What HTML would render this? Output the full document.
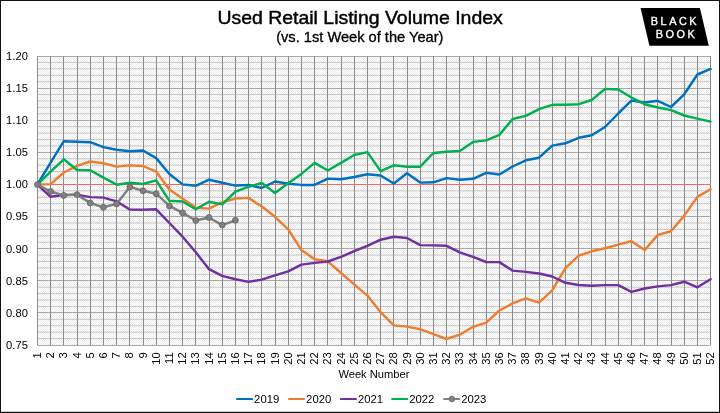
<!DOCTYPE html>
<html lang="en">
<head>
<meta charset="utf-8">
<title>Used Retail Listing Volume Index</title>
<style>
html,body{margin:0;padding:0;background:#fff;}
body{width:720px;height:413px;overflow:hidden;}
svg{display:block;}
text{font-family:"Liberation Sans",Arial,Helvetica,sans-serif;fill:#000;}
.ax{font-size:10.67px;}
.ser{fill:none;stroke-width:2.45;stroke-linejoin:round;stroke-linecap:round;}
</style>
</head>
<body>
<svg width="720" height="413" viewBox="0 0 720 413">
<defs>
<pattern id="dots" x="0" y="0" width="2" height="2" patternUnits="userSpaceOnUse">
<rect width="2" height="2" fill="#fdfdfd"/>
<rect x="0" y="0" width="1" height="1" fill="#ededed"/>
<rect x="1" y="1" width="1" height="1" fill="#ededed"/>
</pattern>
</defs>
<rect x="0" y="0" width="720" height="413" fill="#fff"/>
<rect x="37.4" y="56.0" width="673.2" height="289.0" fill="url(#dots)"/>
<g stroke="#c8c8c8" stroke-width="1">
<line x1="37.4" y1="62.42" x2="710.6" y2="62.42"/><line x1="37.4" y1="68.84" x2="710.6" y2="68.84"/><line x1="37.4" y1="75.27" x2="710.6" y2="75.27"/><line x1="37.4" y1="81.69" x2="710.6" y2="81.69"/><line x1="37.4" y1="94.53" x2="710.6" y2="94.53"/><line x1="37.4" y1="100.96" x2="710.6" y2="100.96"/><line x1="37.4" y1="107.38" x2="710.6" y2="107.38"/><line x1="37.4" y1="113.80" x2="710.6" y2="113.80"/><line x1="37.4" y1="126.64" x2="710.6" y2="126.64"/><line x1="37.4" y1="133.07" x2="710.6" y2="133.07"/><line x1="37.4" y1="139.49" x2="710.6" y2="139.49"/><line x1="37.4" y1="145.91" x2="710.6" y2="145.91"/><line x1="37.4" y1="158.76" x2="710.6" y2="158.76"/><line x1="37.4" y1="165.18" x2="710.6" y2="165.18"/><line x1="37.4" y1="171.60" x2="710.6" y2="171.60"/><line x1="37.4" y1="178.02" x2="710.6" y2="178.02"/><line x1="37.4" y1="190.87" x2="710.6" y2="190.87"/><line x1="37.4" y1="197.29" x2="710.6" y2="197.29"/><line x1="37.4" y1="203.71" x2="710.6" y2="203.71"/><line x1="37.4" y1="210.13" x2="710.6" y2="210.13"/><line x1="37.4" y1="222.98" x2="710.6" y2="222.98"/><line x1="37.4" y1="229.40" x2="710.6" y2="229.40"/><line x1="37.4" y1="235.82" x2="710.6" y2="235.82"/><line x1="37.4" y1="242.24" x2="710.6" y2="242.24"/><line x1="37.4" y1="255.09" x2="710.6" y2="255.09"/><line x1="37.4" y1="261.51" x2="710.6" y2="261.51"/><line x1="37.4" y1="267.93" x2="710.6" y2="267.93"/><line x1="37.4" y1="274.36" x2="710.6" y2="274.36"/><line x1="37.4" y1="287.20" x2="710.6" y2="287.20"/><line x1="37.4" y1="293.62" x2="710.6" y2="293.62"/><line x1="37.4" y1="300.04" x2="710.6" y2="300.04"/><line x1="37.4" y1="306.47" x2="710.6" y2="306.47"/><line x1="37.4" y1="319.31" x2="710.6" y2="319.31"/><line x1="37.4" y1="325.73" x2="710.6" y2="325.73"/><line x1="37.4" y1="332.16" x2="710.6" y2="332.16"/><line x1="37.4" y1="338.58" x2="710.6" y2="338.58"/>
</g>
<g stroke="#a9a9a9" stroke-width="1">
<line x1="37.4" y1="56.5" x2="710.6" y2="56.5"/><line x1="37.4" y1="88.5" x2="710.6" y2="88.5"/><line x1="37.4" y1="120.5" x2="710.6" y2="120.5"/><line x1="37.4" y1="152.5" x2="710.6" y2="152.5"/><line x1="37.4" y1="184.5" x2="710.6" y2="184.5"/><line x1="37.4" y1="216.5" x2="710.6" y2="216.5"/><line x1="37.4" y1="248.5" x2="710.6" y2="248.5"/><line x1="37.4" y1="280.5" x2="710.6" y2="280.5"/><line x1="37.4" y1="312.5" x2="710.6" y2="312.5"/><line x1="37.4" y1="345.5" x2="710.6" y2="345.5"/>
</g>
<g stroke="#8b8b8b" stroke-width="1">
<line x1="37.5" y1="56.0" x2="37.5" y2="345.0"/><line x1="50.5" y1="56.0" x2="50.5" y2="345.0"/><line x1="63.5" y1="56.0" x2="63.5" y2="345.0"/><line x1="77.5" y1="56.0" x2="77.5" y2="345.0"/><line x1="90.5" y1="56.0" x2="90.5" y2="345.0"/><line x1="103.5" y1="56.0" x2="103.5" y2="345.0"/><line x1="116.5" y1="56.0" x2="116.5" y2="345.0"/><line x1="129.5" y1="56.0" x2="129.5" y2="345.0"/><line x1="143.5" y1="56.0" x2="143.5" y2="345.0"/><line x1="156.5" y1="56.0" x2="156.5" y2="345.0"/><line x1="169.5" y1="56.0" x2="169.5" y2="345.0"/><line x1="182.5" y1="56.0" x2="182.5" y2="345.0"/><line x1="195.5" y1="56.0" x2="195.5" y2="345.0"/><line x1="209.5" y1="56.0" x2="209.5" y2="345.0"/><line x1="222.5" y1="56.0" x2="222.5" y2="345.0"/><line x1="235.5" y1="56.0" x2="235.5" y2="345.0"/><line x1="248.5" y1="56.0" x2="248.5" y2="345.0"/><line x1="261.5" y1="56.0" x2="261.5" y2="345.0"/><line x1="275.5" y1="56.0" x2="275.5" y2="345.0"/><line x1="288.5" y1="56.0" x2="288.5" y2="345.0"/><line x1="301.5" y1="56.0" x2="301.5" y2="345.0"/><line x1="314.5" y1="56.0" x2="314.5" y2="345.0"/><line x1="327.5" y1="56.0" x2="327.5" y2="345.0"/><line x1="341.5" y1="56.0" x2="341.5" y2="345.0"/><line x1="354.5" y1="56.0" x2="354.5" y2="345.0"/><line x1="367.5" y1="56.0" x2="367.5" y2="345.0"/><line x1="380.5" y1="56.0" x2="380.5" y2="345.0"/><line x1="393.5" y1="56.0" x2="393.5" y2="345.0"/><line x1="407.5" y1="56.0" x2="407.5" y2="345.0"/><line x1="420.5" y1="56.0" x2="420.5" y2="345.0"/><line x1="433.5" y1="56.0" x2="433.5" y2="345.0"/><line x1="446.5" y1="56.0" x2="446.5" y2="345.0"/><line x1="459.5" y1="56.0" x2="459.5" y2="345.0"/><line x1="473.5" y1="56.0" x2="473.5" y2="345.0"/><line x1="486.5" y1="56.0" x2="486.5" y2="345.0"/><line x1="499.5" y1="56.0" x2="499.5" y2="345.0"/><line x1="512.5" y1="56.0" x2="512.5" y2="345.0"/><line x1="525.5" y1="56.0" x2="525.5" y2="345.0"/><line x1="539.5" y1="56.0" x2="539.5" y2="345.0"/><line x1="552.5" y1="56.0" x2="552.5" y2="345.0"/><line x1="565.5" y1="56.0" x2="565.5" y2="345.0"/><line x1="578.5" y1="56.0" x2="578.5" y2="345.0"/><line x1="591.5" y1="56.0" x2="591.5" y2="345.0"/><line x1="605.5" y1="56.0" x2="605.5" y2="345.0"/><line x1="618.5" y1="56.0" x2="618.5" y2="345.0"/><line x1="631.5" y1="56.0" x2="631.5" y2="345.0"/><line x1="644.5" y1="56.0" x2="644.5" y2="345.0"/><line x1="657.5" y1="56.0" x2="657.5" y2="345.0"/><line x1="671.5" y1="56.0" x2="671.5" y2="345.0"/><line x1="684.5" y1="56.0" x2="684.5" y2="345.0"/><line x1="697.5" y1="56.0" x2="697.5" y2="345.0"/><line x1="710.5" y1="56.0" x2="710.5" y2="345.0"/>
</g>
<line x1="37.4" y1="184.5" x2="710.6" y2="184.5" stroke="#ff6060" stroke-width="1"/>
<polyline class="ser" stroke="#0070c0" points="37.4,184.5 50.6,162.7 63.8,141.2 77.0,141.7 90.2,142.2 103.4,147.1 116.6,149.8 129.8,151.2 143.0,150.5 156.2,158.1 169.4,174.0 182.6,184.4 195.8,185.8 209.0,179.7 222.2,182.8 235.4,185.6 248.6,185.0 261.8,188.0 275.0,181.5 288.2,183.7 301.4,184.9 314.6,184.9 327.8,178.6 341.0,179.3 354.2,177.0 367.4,174.2 380.6,175.5 393.8,183.5 407.0,173.3 420.2,182.6 433.4,182.3 446.6,178.1 459.8,179.7 473.0,178.8 486.2,172.8 499.4,174.5 512.6,166.5 525.8,160.3 539.0,157.7 552.2,145.6 565.4,143.3 578.6,137.8 591.8,135.3 605.0,127.0 618.2,113.5 631.4,100.6 644.6,102.5 657.8,100.8 671.0,107.0 684.2,94.3 697.4,74.5 710.6,68.9"/>
<polyline class="ser" stroke="#ed7d31" points="37.4,184.5 50.6,184.1 63.8,172.5 77.0,165.8 90.2,161.5 103.4,163.2 116.6,166.6 129.8,165.4 143.0,166.0 156.2,171.7 169.4,189.5 182.6,198.8 195.8,207.6 209.0,208.6 222.2,202.2 235.4,198.5 248.6,197.9 261.8,206.5 275.0,216.8 288.2,229.3 301.4,250.0 314.6,259.2 327.8,261.3 341.0,273.0 354.2,284.4 367.4,295.6 380.6,312.2 393.8,325.4 407.0,326.6 420.2,329.2 433.4,334.2 446.6,339.0 459.8,334.7 473.0,326.8 486.2,322.6 499.4,310.5 512.6,303.4 525.8,298.4 539.0,302.6 552.2,290.3 565.4,268.1 578.6,255.7 591.8,251.3 605.0,248.3 618.2,244.6 631.4,241.2 644.6,250.1 657.8,234.9 671.0,231.3 684.2,215.6 697.4,196.9 710.6,189.3"/>
<polyline class="ser" stroke="#7030a0" points="37.4,184.5 50.6,196.8 63.8,194.9 77.0,194.6 90.2,197.1 103.4,197.6 116.6,201.4 129.8,209.5 143.0,209.8 156.2,209.3 169.4,223.0 182.6,236.7 195.8,252.2 209.0,269.2 222.2,275.9 235.4,279.3 248.6,281.9 261.8,279.6 275.0,275.3 288.2,271.4 301.4,264.6 314.6,262.9 327.8,261.5 341.0,256.9 354.2,251.2 367.4,245.8 380.6,239.7 393.8,236.8 407.0,238.0 420.2,245.1 433.4,245.4 446.6,245.8 459.8,252.4 473.0,256.8 486.2,262.0 499.4,262.1 512.6,270.6 525.8,271.9 539.0,273.5 552.2,276.5 565.4,282.8 578.6,285.0 591.8,285.7 605.0,285.1 618.2,285.1 631.4,291.9 644.6,288.5 657.8,286.4 671.0,285.1 684.2,281.7 697.4,287.3 710.6,279.2"/>
<polyline class="ser" stroke="#00b050" points="37.4,184.5 50.6,171.7 63.8,159.3 77.0,170.0 90.2,170.3 103.4,177.6 116.6,184.7 129.8,182.7 143.0,184.0 156.2,180.4 169.4,200.8 182.6,201.5 195.8,209.3 209.0,201.7 222.2,204.4 235.4,191.7 248.6,186.9 261.8,183.0 275.0,192.9 288.2,183.2 301.4,173.9 314.6,162.9 327.8,170.5 341.0,162.9 354.2,155.0 367.4,152.1 380.6,171.1 393.8,165.3 407.0,166.7 420.2,166.7 433.4,153.0 446.6,151.8 459.8,150.9 473.0,141.9 486.2,140.4 499.4,134.9 512.6,119.0 525.8,115.9 539.0,109.2 552.2,104.8 565.4,104.8 578.6,104.2 591.8,100.0 605.0,88.9 618.2,89.5 631.4,97.5 644.6,104.2 657.8,107.5 671.0,110.1 684.2,115.5 697.4,118.6 710.6,121.6"/>
<polyline class="ser" stroke="#7f7f7f" points="37.4,184.6 50.6,191.5 63.8,195.4 77.0,194.6 90.2,203.0 103.4,207.3 116.6,203.9 129.8,186.9 143.0,190.7 156.2,193.7 169.4,205.9 182.6,212.9 195.8,220.5 209.0,217.5 222.2,225.1 235.4,220.3"/>
<g fill="#808080" stroke="#5e5e5e" stroke-width="0.7">
<circle cx="37.4" cy="184.6" r="2.95"/><circle cx="50.6" cy="191.5" r="2.95"/><circle cx="63.8" cy="195.4" r="2.95"/><circle cx="77.0" cy="194.6" r="2.95"/><circle cx="90.2" cy="203.0" r="2.95"/><circle cx="103.4" cy="207.3" r="2.95"/><circle cx="116.6" cy="203.9" r="2.95"/><circle cx="129.8" cy="186.9" r="2.95"/><circle cx="143.0" cy="190.7" r="2.95"/><circle cx="156.2" cy="193.7" r="2.95"/><circle cx="169.4" cy="205.9" r="2.95"/><circle cx="182.6" cy="212.9" r="2.95"/><circle cx="195.8" cy="220.5" r="2.95"/><circle cx="209.0" cy="217.5" r="2.95"/><circle cx="222.2" cy="225.1" r="2.95"/><circle cx="235.4" cy="220.3" r="2.95"/>
</g>
<g class="ax">
<text transform="translate(27.90,59.90) scale(1.000,1)" text-anchor="end" style="font-size:11.2px">1.20</text>
<text transform="translate(27.90,92.01) scale(1.000,1)" text-anchor="end" style="font-size:11.2px">1.15</text>
<text transform="translate(27.90,124.12) scale(1.000,1)" text-anchor="end" style="font-size:11.2px">1.10</text>
<text transform="translate(27.90,156.23) scale(1.000,1)" text-anchor="end" style="font-size:11.2px">1.05</text>
<text transform="translate(27.90,188.34) scale(1.000,1)" text-anchor="end" style="font-size:11.2px">1.00</text>
<text transform="translate(27.90,220.46) scale(1.000,1)" text-anchor="end" style="font-size:11.2px">0.95</text>
<text transform="translate(27.90,252.57) scale(1.000,1)" text-anchor="end" style="font-size:11.2px">0.90</text>
<text transform="translate(27.90,284.68) scale(1.000,1)" text-anchor="end" style="font-size:11.2px">0.85</text>
<text transform="translate(27.90,316.79) scale(1.000,1)" text-anchor="end" style="font-size:11.2px">0.80</text>
<text transform="translate(27.90,348.90) scale(1.000,1)" text-anchor="end" style="font-size:11.2px">0.75</text>
</g>
<g class="ax">
<text transform="translate(41.00,352.30) rotate(-90) scale(1.000,1)" text-anchor="end" style="font-size:11.2px">1</text>
<text transform="translate(54.00,352.30) rotate(-90) scale(1.000,1)" text-anchor="end" style="font-size:11.2px">2</text>
<text transform="translate(67.00,352.30) rotate(-90) scale(1.000,1)" text-anchor="end" style="font-size:11.2px">3</text>
<text transform="translate(81.00,352.30) rotate(-90) scale(1.000,1)" text-anchor="end" style="font-size:11.2px">4</text>
<text transform="translate(94.00,352.30) rotate(-90) scale(1.000,1)" text-anchor="end" style="font-size:11.2px">5</text>
<text transform="translate(107.00,352.30) rotate(-90) scale(1.000,1)" text-anchor="end" style="font-size:11.2px">6</text>
<text transform="translate(120.00,352.30) rotate(-90) scale(1.000,1)" text-anchor="end" style="font-size:11.2px">7</text>
<text transform="translate(133.00,352.30) rotate(-90) scale(1.000,1)" text-anchor="end" style="font-size:11.2px">8</text>
<text transform="translate(147.00,352.30) rotate(-90) scale(1.000,1)" text-anchor="end" style="font-size:11.2px">9</text>
<text transform="translate(160.00,352.30) rotate(-90) scale(1.000,1)" text-anchor="end" style="font-size:11.2px">10</text>
<text transform="translate(173.00,352.30) rotate(-90) scale(1.000,1)" text-anchor="end" style="font-size:11.2px">11</text>
<text transform="translate(186.00,352.30) rotate(-90) scale(1.000,1)" text-anchor="end" style="font-size:11.2px">12</text>
<text transform="translate(199.00,352.30) rotate(-90) scale(1.000,1)" text-anchor="end" style="font-size:11.2px">13</text>
<text transform="translate(213.00,352.30) rotate(-90) scale(1.000,1)" text-anchor="end" style="font-size:11.2px">14</text>
<text transform="translate(226.00,352.30) rotate(-90) scale(1.000,1)" text-anchor="end" style="font-size:11.2px">15</text>
<text transform="translate(239.00,352.30) rotate(-90) scale(1.000,1)" text-anchor="end" style="font-size:11.2px">16</text>
<text transform="translate(252.00,352.30) rotate(-90) scale(1.000,1)" text-anchor="end" style="font-size:11.2px">17</text>
<text transform="translate(265.00,352.30) rotate(-90) scale(1.000,1)" text-anchor="end" style="font-size:11.2px">18</text>
<text transform="translate(279.00,352.30) rotate(-90) scale(1.000,1)" text-anchor="end" style="font-size:11.2px">19</text>
<text transform="translate(292.00,352.30) rotate(-90) scale(1.000,1)" text-anchor="end" style="font-size:11.2px">20</text>
<text transform="translate(305.00,352.30) rotate(-90) scale(1.000,1)" text-anchor="end" style="font-size:11.2px">21</text>
<text transform="translate(318.00,352.30) rotate(-90) scale(1.000,1)" text-anchor="end" style="font-size:11.2px">22</text>
<text transform="translate(331.00,352.30) rotate(-90) scale(1.000,1)" text-anchor="end" style="font-size:11.2px">23</text>
<text transform="translate(345.00,352.30) rotate(-90) scale(1.000,1)" text-anchor="end" style="font-size:11.2px">24</text>
<text transform="translate(358.00,352.30) rotate(-90) scale(1.000,1)" text-anchor="end" style="font-size:11.2px">25</text>
<text transform="translate(371.00,352.30) rotate(-90) scale(1.000,1)" text-anchor="end" style="font-size:11.2px">26</text>
<text transform="translate(384.00,352.30) rotate(-90) scale(1.000,1)" text-anchor="end" style="font-size:11.2px">27</text>
<text transform="translate(397.00,352.30) rotate(-90) scale(1.000,1)" text-anchor="end" style="font-size:11.2px">28</text>
<text transform="translate(411.00,352.30) rotate(-90) scale(1.000,1)" text-anchor="end" style="font-size:11.2px">29</text>
<text transform="translate(424.00,352.30) rotate(-90) scale(1.000,1)" text-anchor="end" style="font-size:11.2px">30</text>
<text transform="translate(437.00,352.30) rotate(-90) scale(1.000,1)" text-anchor="end" style="font-size:11.2px">31</text>
<text transform="translate(450.00,352.30) rotate(-90) scale(1.000,1)" text-anchor="end" style="font-size:11.2px">32</text>
<text transform="translate(463.00,352.30) rotate(-90) scale(1.000,1)" text-anchor="end" style="font-size:11.2px">33</text>
<text transform="translate(477.00,352.30) rotate(-90) scale(1.000,1)" text-anchor="end" style="font-size:11.2px">34</text>
<text transform="translate(490.00,352.30) rotate(-90) scale(1.000,1)" text-anchor="end" style="font-size:11.2px">35</text>
<text transform="translate(503.00,352.30) rotate(-90) scale(1.000,1)" text-anchor="end" style="font-size:11.2px">36</text>
<text transform="translate(516.00,352.30) rotate(-90) scale(1.000,1)" text-anchor="end" style="font-size:11.2px">37</text>
<text transform="translate(529.00,352.30) rotate(-90) scale(1.000,1)" text-anchor="end" style="font-size:11.2px">38</text>
<text transform="translate(543.00,352.30) rotate(-90) scale(1.000,1)" text-anchor="end" style="font-size:11.2px">39</text>
<text transform="translate(556.00,352.30) rotate(-90) scale(1.000,1)" text-anchor="end" style="font-size:11.2px">40</text>
<text transform="translate(569.00,352.30) rotate(-90) scale(1.000,1)" text-anchor="end" style="font-size:11.2px">41</text>
<text transform="translate(582.00,352.30) rotate(-90) scale(1.000,1)" text-anchor="end" style="font-size:11.2px">42</text>
<text transform="translate(595.00,352.30) rotate(-90) scale(1.000,1)" text-anchor="end" style="font-size:11.2px">43</text>
<text transform="translate(609.00,352.30) rotate(-90) scale(1.000,1)" text-anchor="end" style="font-size:11.2px">44</text>
<text transform="translate(622.00,352.30) rotate(-90) scale(1.000,1)" text-anchor="end" style="font-size:11.2px">45</text>
<text transform="translate(635.00,352.30) rotate(-90) scale(1.000,1)" text-anchor="end" style="font-size:11.2px">46</text>
<text transform="translate(648.00,352.30) rotate(-90) scale(1.000,1)" text-anchor="end" style="font-size:11.2px">47</text>
<text transform="translate(661.00,352.30) rotate(-90) scale(1.000,1)" text-anchor="end" style="font-size:11.2px">48</text>
<text transform="translate(675.00,352.30) rotate(-90) scale(1.000,1)" text-anchor="end" style="font-size:11.2px">49</text>
<text transform="translate(688.00,352.30) rotate(-90) scale(1.000,1)" text-anchor="end" style="font-size:11.2px">50</text>
<text transform="translate(701.00,352.30) rotate(-90) scale(1.000,1)" text-anchor="end" style="font-size:11.2px">51</text>
<text transform="translate(714.00,352.30) rotate(-90) scale(1.000,1)" text-anchor="end" style="font-size:11.2px">52</text>
</g>
<text transform="translate(360.10,23.70) scale(1.046,1)" text-anchor="middle" style="font-size:18.6px;stroke:#000;stroke-width:0.45px">Used Retail Listing Volume Index</text>
<text transform="translate(359.80,41.60) scale(1.046,1)" text-anchor="middle" style="font-size:14px;stroke:#000;stroke-width:0.3px">(vs. 1st Week of the Year)</text>
<text transform="translate(373.90,378.00) scale(1.046,1)" text-anchor="middle" style="font-size:10.67px">Week Number</text>
<line x1="237.0" y1="399" x2="252.2" y2="399" stroke="#0070c0" stroke-width="2" stroke-linecap="round"/><text transform="translate(254.10,402.80) scale(1.046,1)" text-anchor="start" style="font-size:10.8px">2019</text>
<line x1="289.0" y1="399" x2="304.2" y2="399" stroke="#ed7d31" stroke-width="2" stroke-linecap="round"/><text transform="translate(306.10,402.80) scale(1.046,1)" text-anchor="start" style="font-size:10.8px">2020</text>
<line x1="340.8" y1="399" x2="356.0" y2="399" stroke="#7030a0" stroke-width="2" stroke-linecap="round"/><text transform="translate(357.90,402.80) scale(1.046,1)" text-anchor="start" style="font-size:10.8px">2021</text>
<line x1="392.1" y1="399" x2="407.3" y2="399" stroke="#00b050" stroke-width="2" stroke-linecap="round"/><text transform="translate(409.20,402.80) scale(1.046,1)" text-anchor="start" style="font-size:10.8px">2022</text>
<line x1="444.1" y1="399" x2="459.3" y2="399" stroke="#7f7f7f" stroke-width="2" stroke-linecap="round"/><circle cx="451.8" cy="399" r="2.9" fill="#7f7f7f" stroke="#6a6a6a" stroke-width="0.6"/><text transform="translate(461.20,402.80) scale(1.046,1)" text-anchor="start" style="font-size:10.8px">2023</text>
<polygon points="640.6,8 699.9,8 708.8,45.7 649.4,45.7" fill="#000"/>
<g style="font-size:10.9px;letter-spacing:2.52px;stroke:#fff;stroke-width:0.35px">
<text transform="translate(650.80,24.60) scale(1.000,1)" text-anchor="start" style="fill:#fff">BLACK</text>
<text transform="translate(655.70,37.50) scale(1.000,1)" text-anchor="start" style="fill:#fff">BOOK</text>
</g>
<rect x="0.5" y="0.5" width="719" height="412" fill="none" stroke="#111" stroke-width="1"/>
<rect x="0" y="411.8" width="720" height="1.2" fill="#111"/>
</svg>
</body>
</html>
